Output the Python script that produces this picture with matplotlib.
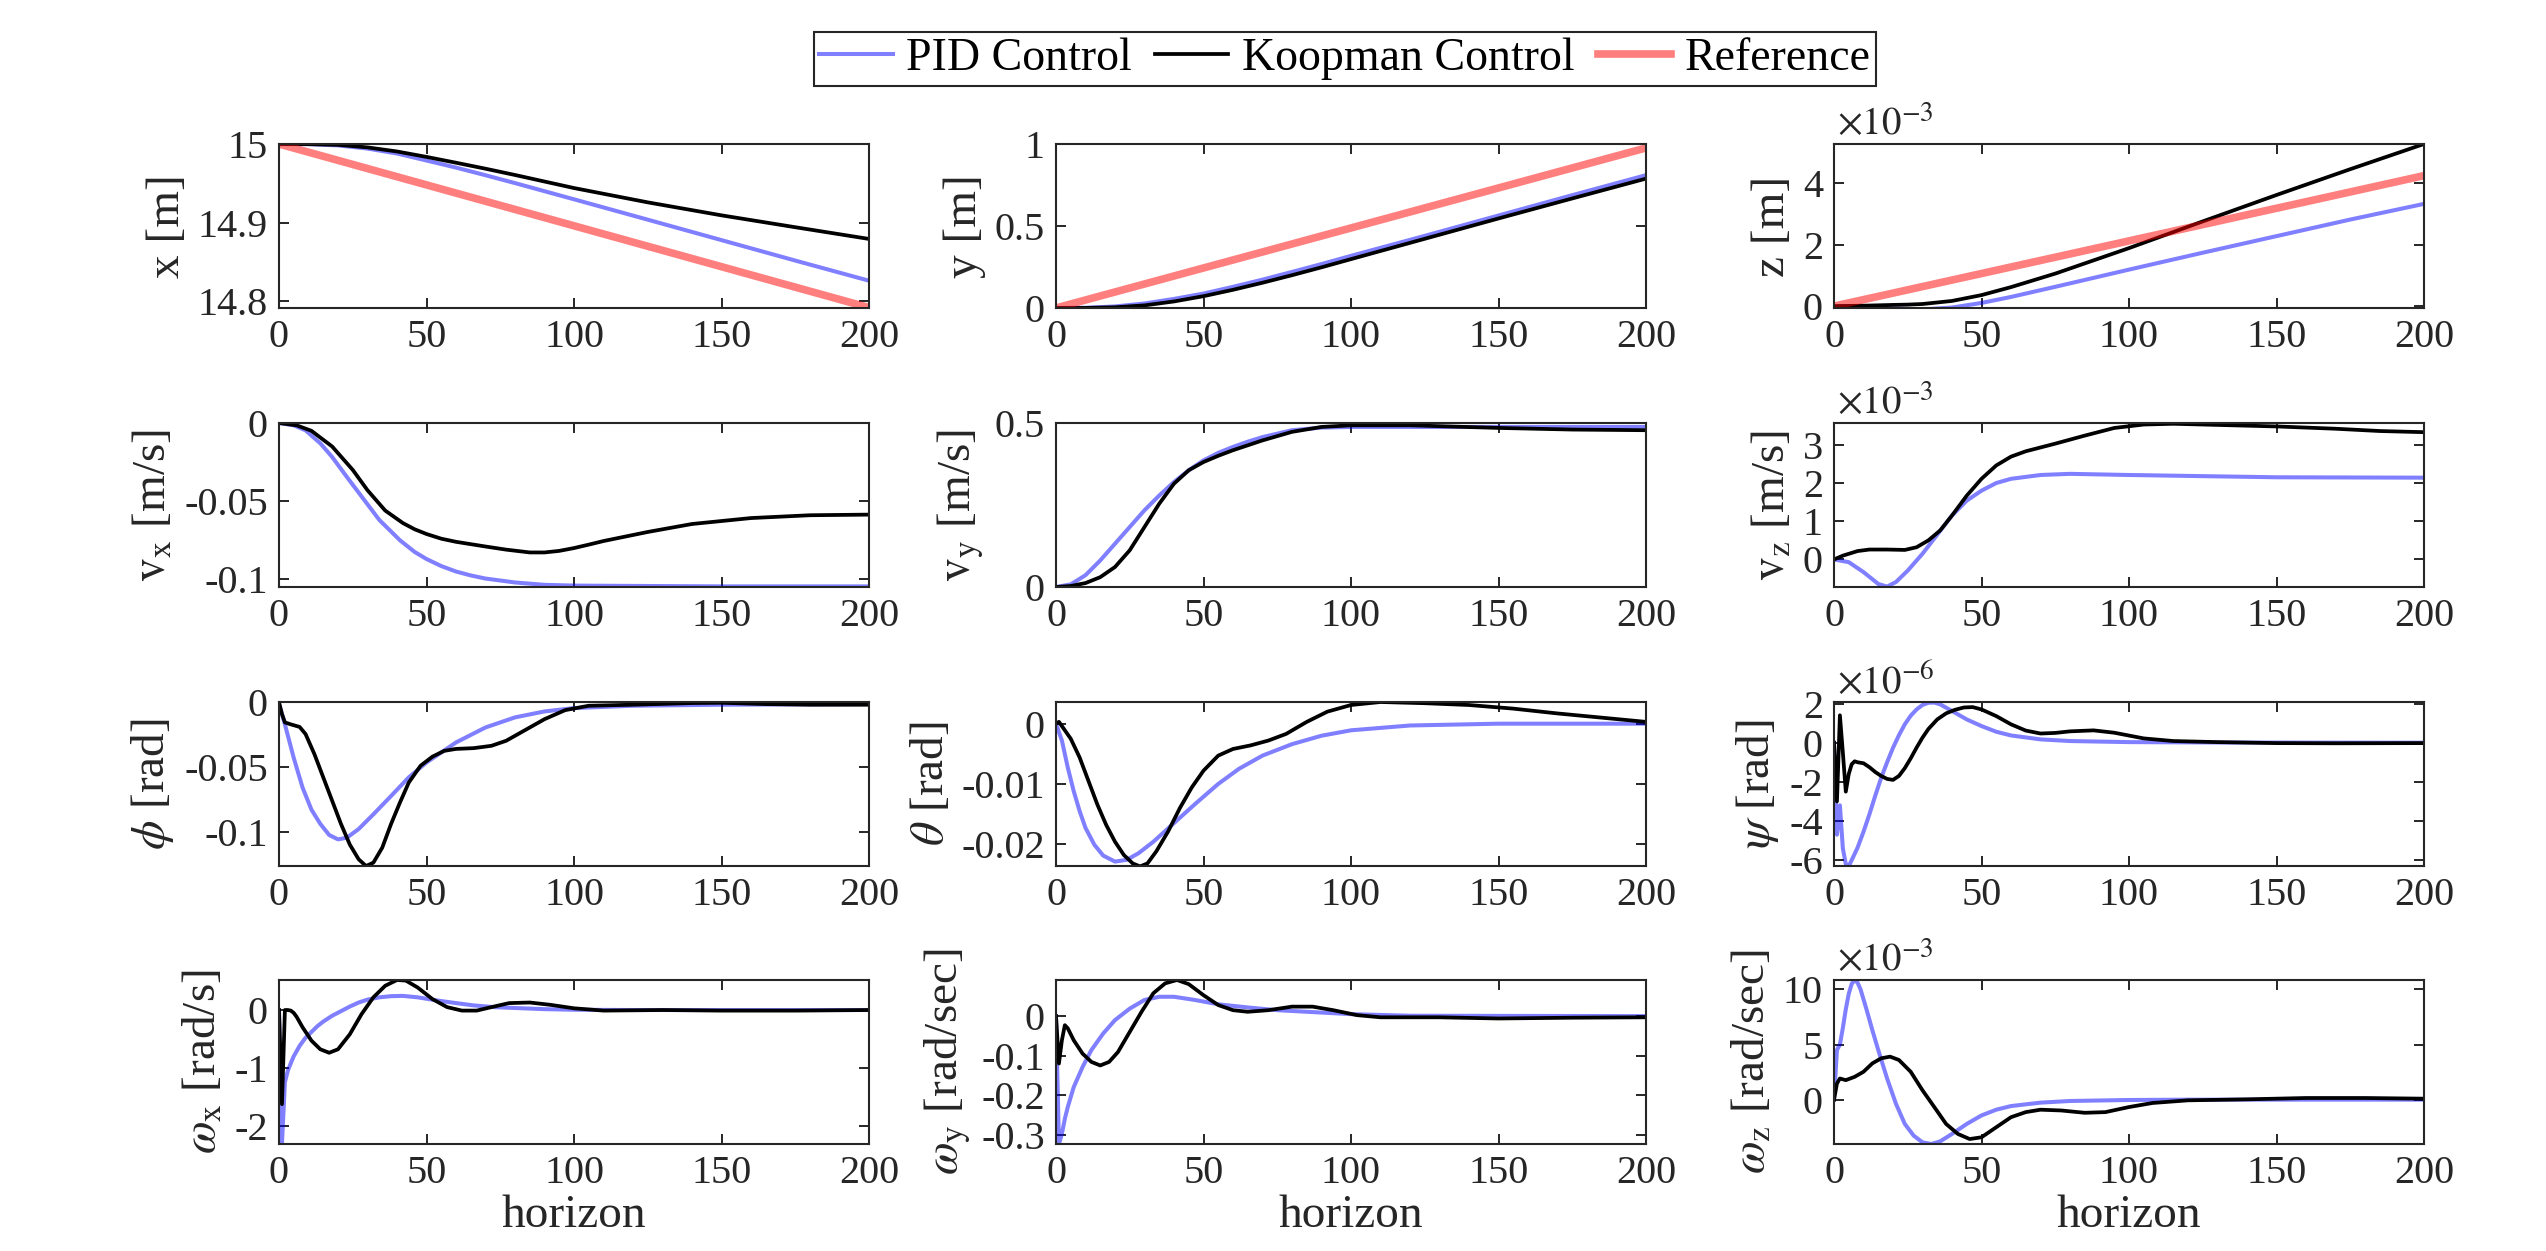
import numpy as np
import matplotlib.pyplot as plt
from matplotlib.ticker import FuncFormatter

plt.rcParams['font.family'] = ['Liberation Serif', 'DejaVu Serif']
plt.rcParams['mathtext.fontset'] = 'stix'
plt.rcParams['axes.unicode_minus'] = False

# ---- data (horizon steps) ----
# position
t_x_pid = [0, 10, 20, 30, 40, 50, 60, 70, 80, 100, 125, 150, 175, 200]
x_pid = [15, 14.9998, 14.9982, 14.9942, 14.9879, 14.9790, 14.9700, 14.9603, 14.9503, 14.9297, 14.9038, 14.8778, 14.8518, 14.8262]
t_x_koop = [0, 10, 20, 30, 40, 50, 60, 70, 80, 90, 100, 125, 150, 175, 200]
x_koop = [15, 14.9998, 14.9989, 14.9957, 14.9905, 14.9836, 14.9762, 14.9686, 14.9606, 14.9523, 14.9440, 14.9258, 14.9093, 14.8942, 14.8793]
t_ref = [0, 200]
x_ref = [15, 14.792]

t_y_pid = [0, 10, 20, 30, 40, 50, 60, 70, 80, 90, 100, 125, 150, 175, 200]
y_pid = [0, 0.0012, 0.0095, 0.0275, 0.0555, 0.088, 0.129, 0.173, 0.220, 0.268, 0.318, 0.440, 0.564, 0.688, 0.810]
t_y_koop = [0, 10, 20, 30, 40, 50, 60, 70, 80, 90, 100, 125, 150, 175, 200]
y_koop = [0, 0.0005, 0.0043, 0.016, 0.040, 0.072, 0.111, 0.154, 0.200, 0.248, 0.298, 0.422, 0.546, 0.668, 0.789]
y_ref = [0, 0.976]

t_z_pid = [0, 10, 20, 30, 40, 50, 60, 75, 100, 125, 150, 175, 200]
z_pid = np.array([0, -0.01, -0.07, -0.105, -0.045, 0.105, 0.30, 0.63, 1.19, 1.74, 2.28, 2.82, 3.33]) * 1e-3
t_z_koop = [0, 10, 20, 25, 30, 40, 50, 60, 75, 100, 125, 150, 175, 200]
z_koop = np.array([0, 0.015, 0.04, 0.05, 0.07, 0.17, 0.36, 0.62, 1.06, 1.89, 2.76, 3.62, 4.46, 5.28]) * 1e-3
z_ref = np.array([0, 4.25]) * 1e-3

# velocity
t_vx_pid = [0, 5, 9, 14, 18, 23, 28, 34, 41, 46, 50, 55, 60, 65, 70, 80, 90, 100, 150, 200]
vx_pid = [0, -0.0015, -0.0047, -0.013, -0.0217, -0.0345, -0.047, -0.062, -0.075, -0.0825, -0.087, -0.0915, -0.095, -0.0975, -0.0995, -0.102, -0.1035, -0.104, -0.1045, -0.1045]
t_vx_koop = [0, 6, 11, 18, 25, 30, 36, 42, 46, 50, 55, 60, 65, 70, 77, 85, 90, 95, 100, 105, 110, 125, 140, 160, 180, 200]
vx_koop = [0, -0.0015, -0.005, -0.015, -0.030, -0.043, -0.056, -0.064, -0.068, -0.071, -0.074, -0.076, -0.0775, -0.079, -0.081, -0.0828, -0.0828, -0.0818, -0.080, -0.0778, -0.0755, -0.0697, -0.0646, -0.0608, -0.059, -0.0586]

t_vy_pid = [0, 5, 10, 15, 20, 25, 30, 35, 40, 45, 50, 55, 60, 65, 70, 80, 90, 100, 150, 200]
vy_pid = [0, 0.008, 0.036, 0.081, 0.132, 0.183, 0.234, 0.279, 0.320, 0.356, 0.386, 0.409, 0.427, 0.443, 0.457, 0.478, 0.486, 0.488, 0.488, 0.488]
t_vy_koop = [0, 5, 10, 15, 20, 25, 30, 35, 40, 45, 50, 55, 60, 65, 70, 80, 90, 100, 120, 150, 175, 200]
vy_koop = [0, 0.003, 0.012, 0.030, 0.061, 0.112, 0.183, 0.254, 0.315, 0.356, 0.381, 0.400, 0.417, 0.432, 0.447, 0.473, 0.488, 0.493, 0.493, 0.485, 0.480, 0.478]

t_vz_pid = [0, 5, 10, 15, 18, 21, 25, 30, 35, 40, 45, 50, 55, 60, 70, 80, 100, 150, 200]
vz_pid = np.array([0, -0.07, -0.33, -0.64, -0.71, -0.59, -0.29, 0.15, 0.65, 1.15, 1.54, 1.80, 2.0, 2.11, 2.21, 2.24, 2.21, 2.15, 2.14]) * 1e-3
t_vz_koop = [0, 3, 8, 12, 18, 24, 28, 32, 36, 40, 45, 50, 55, 60, 65, 75, 85, 95, 105, 115, 130, 150, 170, 185, 200]
vz_koop = np.array([0, 0.1, 0.22, 0.26, 0.26, 0.25, 0.32, 0.5, 0.76, 1.15, 1.67, 2.11, 2.46, 2.69, 2.83, 3.03, 3.24, 3.44, 3.53, 3.55, 3.52, 3.48, 3.42, 3.36, 3.33]) * 1e-3

# attitude
t_phi_pid = [0, 2, 5, 8, 11, 14, 17, 20, 23, 27, 32, 38, 44, 50, 60, 70, 80, 90, 100, 120, 150, 200]
phi_pid = [-0.001, -0.017, -0.043, -0.066, -0.083, -0.094, -0.1026, -0.106, -0.1047, -0.098, -0.0866, -0.0724, -0.058, -0.0465, -0.031, -0.0194, -0.0116, -0.007, -0.0044, -0.0026, -0.0018, -0.0013]
t_phi_koop = [0, 1, 2, 4, 7, 9, 12, 15, 18, 21, 24, 27, 29.5, 32, 35, 38, 41, 44, 48, 52, 56, 60, 66, 72, 77, 83, 90, 97, 105, 120, 140, 150, 165, 180, 200]
phi_koop = [0, -0.009, -0.0155, -0.017, -0.019, -0.0245, -0.040, -0.058, -0.076, -0.094, -0.110, -0.1214, -0.1266, -0.124, -0.1124, -0.094, -0.0775, -0.062, -0.049, -0.042, -0.0375, -0.036, -0.0354, -0.0336, -0.0297, -0.022, -0.013, -0.006, -0.0026, -0.0018, -0.0005, -0.0003, -0.0013, -0.0018, -0.0018]

t_th_pid = [0, 2, 4, 6, 8, 10, 13, 16, 20, 24, 28, 33, 40, 47, 55, 62, 70, 80, 90, 100, 120, 150, 200]
th_pid = [0, -0.0028, -0.0073, -0.0112, -0.0145, -0.0173, -0.0201, -0.0219, -0.0229, -0.0226, -0.0215, -0.0196, -0.0165, -0.0134, -0.010, -0.0075, -0.0053, -0.0034, -0.002, -0.0011, -0.0003, 0, 0]
t_th_koop = [0, 1, 3, 5, 8, 11, 14, 17, 20, 23, 26, 28.5, 31, 34, 38, 42, 46, 50, 55, 60, 66, 72, 78, 85, 92, 100, 110, 125, 140, 155, 170, 185, 200]
th_koop = [0, 0.0003, -0.0011, -0.0025, -0.0056, -0.0095, -0.0134, -0.0168, -0.0196, -0.0218, -0.0232, -0.0237, -0.0232, -0.0212, -0.0179, -0.014, -0.0106, -0.0078, -0.0053, -0.0042, -0.0036, -0.0028, -0.0017, 0.0003, 0.002, 0.0031, 0.0036, 0.0034, 0.0031, 0.0025, 0.0017, 0.001, 0.0003]

t_psi_pid = [0, 1, 2, 3, 4, 5, 6, 8, 10, 12, 14, 16, 18, 20, 22, 24, 26, 28, 30, 32, 34, 36, 40, 45, 50, 55, 60, 70, 80, 100, 130, 200]
psi_pid = np.array([0, -4.7, -3.2, -5.4, -6.2, -6.3, -6.0, -5.36, -4.55, -3.66, -2.7, -1.79, -1.0, -0.26, 0.38, 0.94, 1.38, 1.7, 1.93, 2.04, 2.05, 1.96, 1.62, 1.19, 0.85, 0.56, 0.37, 0.17, 0.085, 0.03, 0.01, 0]) * 1e-6
t_psi_koop = [0, 1, 2, 3, 4, 5, 6, 7, 8, 10, 12, 14, 16, 18, 20, 22, 24, 26, 28, 30, 32, 35, 38, 41, 44, 47, 50, 55, 60, 65, 70, 75, 80, 88, 95, 105, 115, 130, 150, 170, 200]
psi_koop = np.array([0, -3.0, 1.4, -0.5, -2.5, -1.6, -1.1, -0.95, -1.0, -1.05, -1.25, -1.5, -1.7, -1.85, -1.9, -1.7, -1.3, -0.8, -0.25, 0.26, 0.7, 1.19, 1.5, 1.68, 1.8, 1.82, 1.7, 1.36, 0.94, 0.62, 0.47, 0.5, 0.58, 0.63, 0.51, 0.22, 0.085, 0.03, -0.02, -0.03, -0.02]) * 1e-6

# angular rates
t_wx_pid = [0, 1, 2, 3, 4, 5, 7, 9, 11, 13, 15, 18, 21, 24, 27, 30, 34, 38, 42, 47, 53, 60, 66, 73, 80, 90, 100, 120, 200]
wx_pid = [0, -2.32, -1.25, -1.05, -0.92, -0.8, -0.62, -0.48, -0.38, -0.28, -0.2, -0.1, -0.02, 0.06, 0.13, 0.18, 0.22, 0.24, 0.245, 0.22, 0.17, 0.12, 0.08, 0.05, 0.035, 0.015, 0.005, 0, 0]
t_wx_koop = [0, 1, 2, 3, 4, 5, 6, 8, 11, 14, 17, 20, 24, 28, 32, 36, 40, 43, 47, 52, 57, 62, 67, 72, 78, 85, 92, 100, 110, 130, 150, 175, 200]
wx_koop = [0, -1.63, 0.0, 0.0, -0.01, -0.05, -0.12, -0.3, -0.53, -0.68, -0.74, -0.68, -0.42, -0.07, 0.22, 0.42, 0.52, 0.51, 0.39, 0.19, 0.05, -0.01, -0.01, 0.05, 0.12, 0.13, 0.09, 0.03, -0.01, 0, -0.01, -0.01, 0]

t_wy_pid = [0, 1, 2, 3, 4, 6, 9, 12, 16, 20, 25, 30, 35, 40, 47, 55, 65, 75, 85, 100, 120, 200]
wy_pid = [0, -0.324, -0.298, -0.26, -0.23, -0.18, -0.129, -0.086, -0.044, -0.01, 0.019, 0.041, 0.049, 0.049, 0.041, 0.03, 0.022, 0.015, 0.011, 0.005, 0.001, 0]
t_wy_koop = [0, 1, 2, 3, 4, 6, 9, 12, 15, 18, 21, 25, 29, 33, 37, 41, 45, 50, 55, 60, 65, 72, 80, 87, 94, 102, 110, 130, 150, 175, 200]
wy_koop = [0, -0.12, -0.061, -0.023, -0.031, -0.061, -0.095, -0.116, -0.125, -0.116, -0.091, -0.04, 0.011, 0.058, 0.083, 0.0915, 0.081, 0.053, 0.028, 0.015, 0.011, 0.015, 0.024, 0.024, 0.015, 0.0025, -0.003, -0.003, -0.006, -0.004, -0.003]

t_wz_pid = [0, 1, 2, 3, 4, 5, 6, 7, 8, 9, 11, 13, 15, 18, 21, 24, 27, 30, 33, 36, 40, 45, 50, 55, 60, 70, 80, 100, 120, 200]
wz_pid = np.array([0, 4.5, 5.0, 6.5, 8.2, 9.6, 10.5, 10.85, 10.6, 10.0, 8.2, 6.3, 4.5, 1.92, -0.37, -2.2, -3.26, -3.87, -4.02, -3.78, -3.11, -2.2, -1.43, -0.91, -0.58, -0.27, -0.12, -0.03, 0, 0]) * 1e-3
t_wz_koop = [0, 1, 2, 4, 7, 10, 13, 16, 19, 22, 26, 30, 34, 38, 42, 46, 50, 55, 60, 65, 70, 77, 85, 92, 100, 108, 120, 140, 160, 180, 200]
wz_koop = np.array([0, 1.46, 1.92, 1.77, 2.07, 2.53, 3.29, 3.75, 3.9, 3.6, 2.53, 0.85, -0.67, -2.2, -3.11, -3.57, -3.41, -2.5, -1.59, -1.13, -0.91, -0.98, -1.19, -1.13, -0.67, -0.3, -0.06, 0.03, 0.15, 0.15, 0.09]) * 1e-3

ylabels = ['x [m]', 'y [m]', 'z [m]',
           r'$\mathrm{v}_\mathrm{x}$ [m/s]', r'$\mathrm{v}_\mathrm{y}$ [m/s]', r'$\mathrm{v}_\mathrm{z}$ [m/s]',
           r'$\phi$ [rad]', r'$\theta$ [rad]', r'$\psi$ [rad]',
           r'$\omega_\mathrm{x}$ [rad/s]', r'$\omega_\mathrm{y}$ [rad/sec]', r'$\omega_\mathrm{z}$ [rad/sec]']

# (pid, koop, ref, ylim, yticks, exponent)
panels = [
    ((t_x_pid, x_pid), (t_x_koop, x_koop), (t_ref, x_ref), (14.7915, 15.0), [14.8, 14.9, 15], 0),
    ((t_y_pid, y_pid), (t_y_koop, y_koop), (t_ref, y_ref), (0, 1.0), [0, 0.5, 1], 0),
    ((t_z_pid, z_pid), (t_z_koop, z_koop), (t_ref, z_ref), (-0.06e-3, 5.28e-3), [0, 2e-3, 4e-3], -3),
    ((t_vx_pid, vx_pid), (t_vx_koop, vx_koop), None, (-0.1049, 0), [-0.1, -0.05, 0], 0),
    ((t_vy_pid, vy_pid), (t_vy_koop, vy_koop), None, (0, 0.5), [0, 0.5], 0),
    ((t_vz_pid, vz_pid), (t_vz_koop, vz_koop), None, (-0.72e-3, 3.57e-3), [0, 1e-3, 2e-3, 3e-3], -3),
    ((t_phi_pid, phi_pid), (t_phi_koop, phi_koop), None, (-0.1266, 0.0003), [-0.1, -0.05, 0], 0),
    ((t_th_pid, th_pid), (t_th_koop, th_koop), None, (-0.02363, 0.0036), [-0.02, -0.01, 0], 0),
    ((t_psi_pid, psi_pid), (t_psi_koop, psi_koop), None, (-6.3e-6, 2.08e-6), [-6e-6, -4e-6, -2e-6, 0, 2e-6], -6),
    ((t_wx_pid, wx_pid), (t_wx_koop, wx_koop), None, (-2.32, 0.52), [-2, -1, 0], 0),
    ((t_wy_pid, wy_pid), (t_wy_koop, wy_koop), None, (-0.324, 0.0915), [-0.3, -0.2, -0.1, 0], 0),
    ((t_wz_pid, wz_pid), (t_wz_koop, wz_koop), None, (-4.02e-3, 10.85e-3), [0, 5e-3, 10e-3], -3),
]

W, H = 2546, 1251
fig = plt.figure(figsize=(W / 100, H / 100), dpi=100)
lefts = [279, 1056, 1834]
tops = [144, 423, 702, 980]
aw, ah = 590, 164
ink = '#262626'

handles = None
for k, (pid, koop, ref, ylim, yt, ex) in enumerate(panels):
    r, c = divmod(k, 3)
    ax = fig.add_axes([lefts[c] / W, 1 - (tops[r] + ah) / H, aw / W, ah / H])
    h1, = ax.plot(pid[0], pid[1], color='b', alpha=0.5, lw=2.9, label='PID Control')
    h2, = ax.plot(koop[0], koop[1], color='k', lw=2.7, label='Koopman Control')
    if ref is not None:
        h3, = ax.plot(ref[0], ref[1], color='r', alpha=0.5, lw=5.5, label='Reference')
        if handles is None:
            handles = [h1, h2, h3]
    ax.set_xlim(0, 200)
    ax.set_ylim(*ylim)
    ax.set_xticks([0, 50, 100, 150, 200])
    ax.set_yticks(yt)
    sc = 10.0 ** ex
    ax.yaxis.set_major_formatter(FuncFormatter(lambda v, p, s=sc: '%g' % round(v / s, 6)))
    if ex != 0:
        ax.text(0.005, 1.0, r'$\times 10^{%d}$' % ex, transform=ax.transAxes,
                fontsize=28, ha='left', va='bottom', color=ink)
    ax.tick_params(direction='in', length=7, width=1.4, top=True, right=True,
                   labelsize=29, pad=8, color=ink, labelcolor=ink)
    for sp in ax.spines.values():
        sp.set_linewidth(1.5)
        sp.set_color(ink)
    ax.set_ylabel(ylabels[k], fontsize=34, color=ink, labelpad=6)
    if r == 3:
        ax.set_xlabel('horizon', fontsize=34, color=ink, labelpad=2)

leg = fig.legend(handles, ['PID Control', 'Koopman Control', 'Reference'],
                 loc='center', bbox_to_anchor=(1345 / W, 1 - 59 / H), ncol=3,
                 fontsize=33, fancybox=False, framealpha=1, edgecolor=ink,
                 handlelength=1.6, handletextpad=0.3, columnspacing=0.5,
                 borderpad=0.12, borderaxespad=0)
leg.get_frame().set_linewidth(1.5)

fig.savefig('out.png', dpi=100)
